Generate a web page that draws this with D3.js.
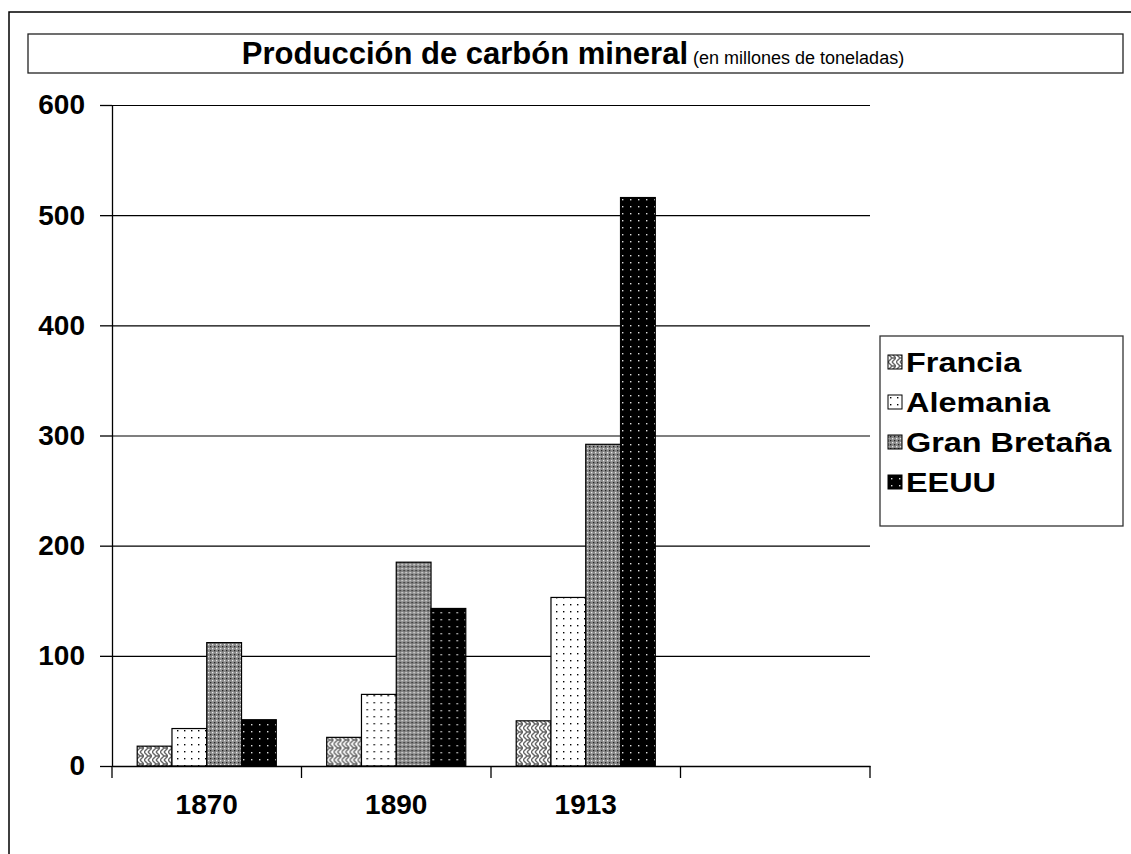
<!DOCTYPE html>
<html>
<head>
<meta charset="utf-8">
<script src="https://cdn.jsdelivr.net/npm/d3@7"></script>
<style>
  body { margin: 0; background: #fff; }
  text { font-family: "Liberation Sans", Arial, sans-serif; }
</style>
</head>
<body>
<div id="chart"></div>
<script>
// data
var years = ["1870", "1890", "1913", ""];
var countries = ["Francia", "Alemania", "Gran Bretaña", "EEUU"];
var francia = [18, 26, 41];
var alemania = [34, 65, 153];
var granBretana = [112, 185, 292];
var eeuu = [42, 143, 516];
var yTicks = [0, 100, 200, 300, 400, 500, 600];

var series = [francia, alemania, granBretana, eeuu];
var patternIds = ["pFrancia", "pAlemania", "pGB", "pEEUU"];

var fullWidth = 1131, fullHeight = 854;
var plot = {left: 112, right: 870, top: 105, bottom: 766};

var svg = d3.select("#chart").append("svg")
    .attr("width", fullWidth)
    .attr("height", fullHeight);

// fill patterns
var defs = svg.append("defs");

var pf = defs.append("pattern").attr("id", "pFrancia")
    .attr("patternUnits", "userSpaceOnUse").attr("width", 8).attr("height", 8);
pf.append("rect").attr("width", 8).attr("height", 8).attr("fill", "#fff");
pf.append("path")
    .attr("d", "M0,0 L4,4 L0,8 M4,0 L8,4 L4,8 M4,4 L8,4 M0,4 L-1,4")
    .attr("stroke", "#666").attr("stroke-width", 1.4).attr("fill", "none");

var pa = defs.append("pattern").attr("id", "pAlemania")
    .attr("patternUnits", "userSpaceOnUse").attr("width", 7).attr("height", 7);
pa.append("rect").attr("width", 7).attr("height", 7).attr("fill", "#fff");
pa.append("rect").attr("x", 2).attr("y", 2).attr("width", 1.4).attr("height", 1.4).attr("fill", "#000");

var pg = defs.append("pattern").attr("id", "pGB")
    .attr("patternUnits", "userSpaceOnUse").attr("width", 4).attr("height", 4);
pg.append("rect").attr("width", 4).attr("height", 4).attr("fill", "#8a8a8a");
pg.append("rect").attr("x", 0).attr("y", 0).attr("width", 1.3).attr("height", 1.3).attr("fill", "#e8e8e8");
pg.append("rect").attr("x", 2).attr("y", 2).attr("width", 1.3).attr("height", 1.3).attr("fill", "#222");

var pe = defs.append("pattern").attr("id", "pEEUU")
    .attr("patternUnits", "userSpaceOnUse").attr("width", 8).attr("height", 7);
pe.append("rect").attr("width", 8).attr("height", 7).attr("fill", "#000");
pe.append("rect").attr("x", 3).attr("y", 3).attr("width", 1.4).attr("height", 1.4).attr("fill", "#ddd");

// frame and title box
svg.append("path")
    .attr("d", "M9," + fullHeight + " L9,12 L" + fullWidth + ",12")
    .attr("fill", "none").attr("stroke", "#000").attr("stroke-width", 1.5);

svg.append("rect")
    .attr("x", 28).attr("y", 34).attr("width", 1095).attr("height", 39)
    .attr("fill", "#fff").attr("stroke", "#222").attr("stroke-width", 1.3);

var title = svg.append("text")
    .attr("x", 573).attr("y", 64)
    .attr("text-anchor", "middle");
title.append("tspan").attr("font-weight", "bold").attr("font-size", "31px")
    .text("Producción de carbón mineral");
title.append("tspan").attr("font-size", "18px").text(" (en millones de toneladas)");

// scales
var xScale = d3.scaleBand()
    .domain(years)
    .range([plot.left, plot.right])
    .padding(0);

var xInner = d3.scaleBand()
    .domain(countries)
    .range([xScale.bandwidth() * 0.133, xScale.bandwidth() * 0.867])
    .padding(0);

var yScale = d3.scaleLinear()
    .domain([0, 600])
    .range([plot.bottom, plot.top]);

// gridlines
svg.append("g")
    .attr("class", "grid")
    .attr("transform", "translate(" + plot.left + ",0)")
    .call(d3.axisRight(yScale).tickValues(yTicks).tickSize(plot.right - plot.left).tickFormat(""))
    .call(function(g) { g.select(".domain").remove(); })
    .selectAll("line").attr("stroke", "#000").attr("stroke-width", 1.2);

// bars
var groups = svg.append("g").attr("class", "bars")
    .selectAll("g")
    .data(years.slice(0, 3))
    .enter().append("g")
    .attr("transform", function(d) { return "translate(" + xScale(d) + ",0)"; });

groups.selectAll("rect")
    .data(function(d, i) {
        return countries.map(function(c, k) { return {country: c, value: series[k][i], pid: patternIds[k]}; });
    })
    .enter().append("rect")
    .attr("x", function(d) { return xInner(d.country); })
    .attr("y", function(d) { return yScale(d.value); })
    .attr("width", xInner.bandwidth())
    .attr("height", function(d) { return plot.bottom - yScale(d.value); })
    .attr("fill", function(d) { return "url(#" + d.pid + ")"; })
    .attr("stroke", "#000")
    .attr("stroke-width", 1.2);

// y axis
var yAxis = svg.append("g")
    .attr("class", "y-axis")
    .attr("transform", "translate(" + plot.left + ",0)")
    .call(d3.axisLeft(yScale).tickValues(yTicks).tickSize(12).tickSizeOuter(0).tickPadding(15));
yAxis.select(".domain").attr("stroke", "#000").attr("stroke-width", 1.3);
yAxis.selectAll("line").attr("stroke", "#000").attr("stroke-width", 1.3);
yAxis.selectAll("text")
    .attr("font-family", "'Liberation Sans', Arial, sans-serif")
    .attr("font-size", "28px").attr("font-weight", "bold").attr("fill", "#000");

// x axis: line, ticks at band edges, labels at band centers
var xAxis = svg.append("g")
    .attr("class", "x-axis")
    .attr("transform", "translate(0," + plot.bottom + ")")
    .call(d3.axisBottom(xScale).tickSize(0).tickPadding(28).tickSizeOuter(0));
xAxis.select(".domain").attr("stroke", "#000").attr("stroke-width", 1.3);
xAxis.selectAll("text")
    .attr("font-family", "'Liberation Sans', Arial, sans-serif")
    .attr("font-size", "28px").attr("font-weight", "bold").attr("fill", "#000");

var edges = years.map(function(d) { return xScale(d); }).concat([plot.right]);
xAxis.selectAll("line.edge")
    .data(edges)
    .enter().append("line")
    .attr("class", "edge")
    .attr("x1", function(d) { return d; }).attr("x2", function(d) { return d; })
    .attr("y1", 0).attr("y2", 12)
    .attr("stroke", "#000").attr("stroke-width", 1.3);

// legend
var legend = svg.append("g").attr("class", "legend");
legend.append("rect")
    .attr("x", 880).attr("y", 336).attr("width", 243).attr("height", 190)
    .attr("fill", "#fff").attr("stroke", "#333").attr("stroke-width", 1.3);

var items = legend.selectAll("g.item")
    .data(countries)
    .enter().append("g")
    .attr("class", "item")
    .attr("transform", function(d, i) { return "translate(888," + (362 + i * 40) + ")"; });

items.append("rect")
    .attr("x", 0).attr("y", -7).attr("width", 14).attr("height", 14)
    .attr("fill", function(d, i) { return "url(#" + patternIds[i] + ")"; })
    .attr("stroke", "#000").attr("stroke-width", 1);

items.append("text")
    .attr("transform", "translate(18,10) scale(1.2,1)")
    .attr("font-size", "27px").attr("font-weight", "bold")
    .text(function(d) { return d; });
</script>
</body>
</html>
